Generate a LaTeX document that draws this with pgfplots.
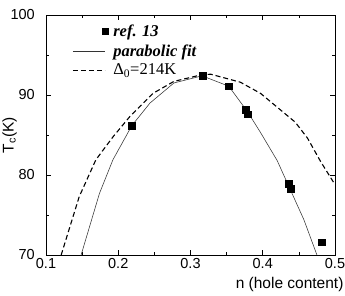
\documentclass[border=0pt]{standalone}
\usepackage{fontspec}
\setmainfont{Liberation Serif}
\setsansfont{Liberation Sans}
\usepackage{pgfplots}
\pgfplotsset{compat=1.18}
\pgfplotsset{
  markleg/.style={legend image code/.code={\path (0pt,0pt); \path (43pt,0pt); \draw[##1] plot[only marks] coordinates {(37.5pt,0pt)};}},
  lineleg/.style={legend image code/.code={\path (0pt,0pt); \draw[##1] (5pt,0pt) -- (37pt,0pt); \path (43pt,0pt);}},
}
\begin{document}
\begin{tikzpicture}
\path[use as bounding box] (-46pt,-40pt) rectangle (299pt,255pt);
\begin{axis}[
  at={(0pt,0pt)}, anchor=south west,
  scale only axis, width=289pt, height=240pt,
  xmin=0.1, xmax=0.5, ymin=70, ymax=100,
  xtick={0.1,0.2,0.3,0.4,0.5}, ytick={70,80,90,100},
  minor xtick={0.15,0.25,0.35,0.45}, minor ytick={75,85,95},
  tick align=inside, major tick length=5pt, minor tick length=3pt,
  /pgf/number format/assume math mode=true,
  xticklabel style={font=\sffamily\fontsize{14.5}{16}\selectfont, /pgf/number format/fixed, /pgf/number format/precision=1, /pgf/number format/fixed zerofill},
  yticklabel style={font=\sffamily\fontsize{14.5}{16}\selectfont, inner sep=0pt, xshift=-11pt},
  axis line style={line width=0.6pt},
  tick style={line width=0.6pt, black},
  xlabel={n (hole content)}, ylabel={T\textsubscript{c}(K)},
  label style={font=\sffamily\fontsize{15.5}{17}\selectfont},
  xlabel style={at={(axis description cs:1.03,-0.09)}, anchor=north east, inner sep=0pt},
  ylabel style={at={(axis description cs:-0.152,0.5)}, anchor=north, inner sep=0pt},
  legend style={at={(axis description cs:0.0727,0.985)}, anchor=north west, yshift=-4pt, draw=none, fill=none,
    inner sep=0pt, row sep=2.5pt, column sep=1pt, nodes={inner xsep=1pt}, font=\fontsize{16.5}{18}\selectfont, cells={anchor=west}},
  legend cell align=left,
]
\addplot[only marks, mark=square*, mark size=3.3pt, black, markleg]
  coordinates {(0.219,86.2)(0.317,92.4)(0.353,91.1)(0.376,88.2)(0.379,87.6)(0.436,78.9)(0.439,78.3)(0.482,71.6)};
\addlegendentry{\textbf{\textit{ref. 13}}}
\addplot[black!80, line width=0.55pt, no marks, lineleg]
  coordinates {(0.1486,70)(0.174,77.7)(0.1926,81.9)(0.219,86.2)(0.244,89.0)(0.277,91.5)(0.316,92.4)(0.353,91.1)(0.379,87.9)(0.397,85.3)(0.42,81.8)(0.434,79.0)(0.457,74.4)(0.475,70)};
\addlegendentry{\textbf{\textit{parabolic fit}}}
\addplot[black, line width=1.1pt, dash pattern=on 5pt off 3pt, no marks, lineleg]
  coordinates {(0.121,70)(0.146,77.3)(0.169,81.9)(0.193,84.8)(0.216,87.3)(0.248,90.2)(0.277,91.7)(0.314,92.5)(0.328,92.6)(0.369,91.6)(0.397,90.2)(0.425,88.1)(0.445,86.6)(0.462,84.6)(0.48,81.7)(0.5,78.8)};
\addlegendentry{Δ\textsubscript{0}=214K}
\end{axis}
\end{tikzpicture}
\end{document}
